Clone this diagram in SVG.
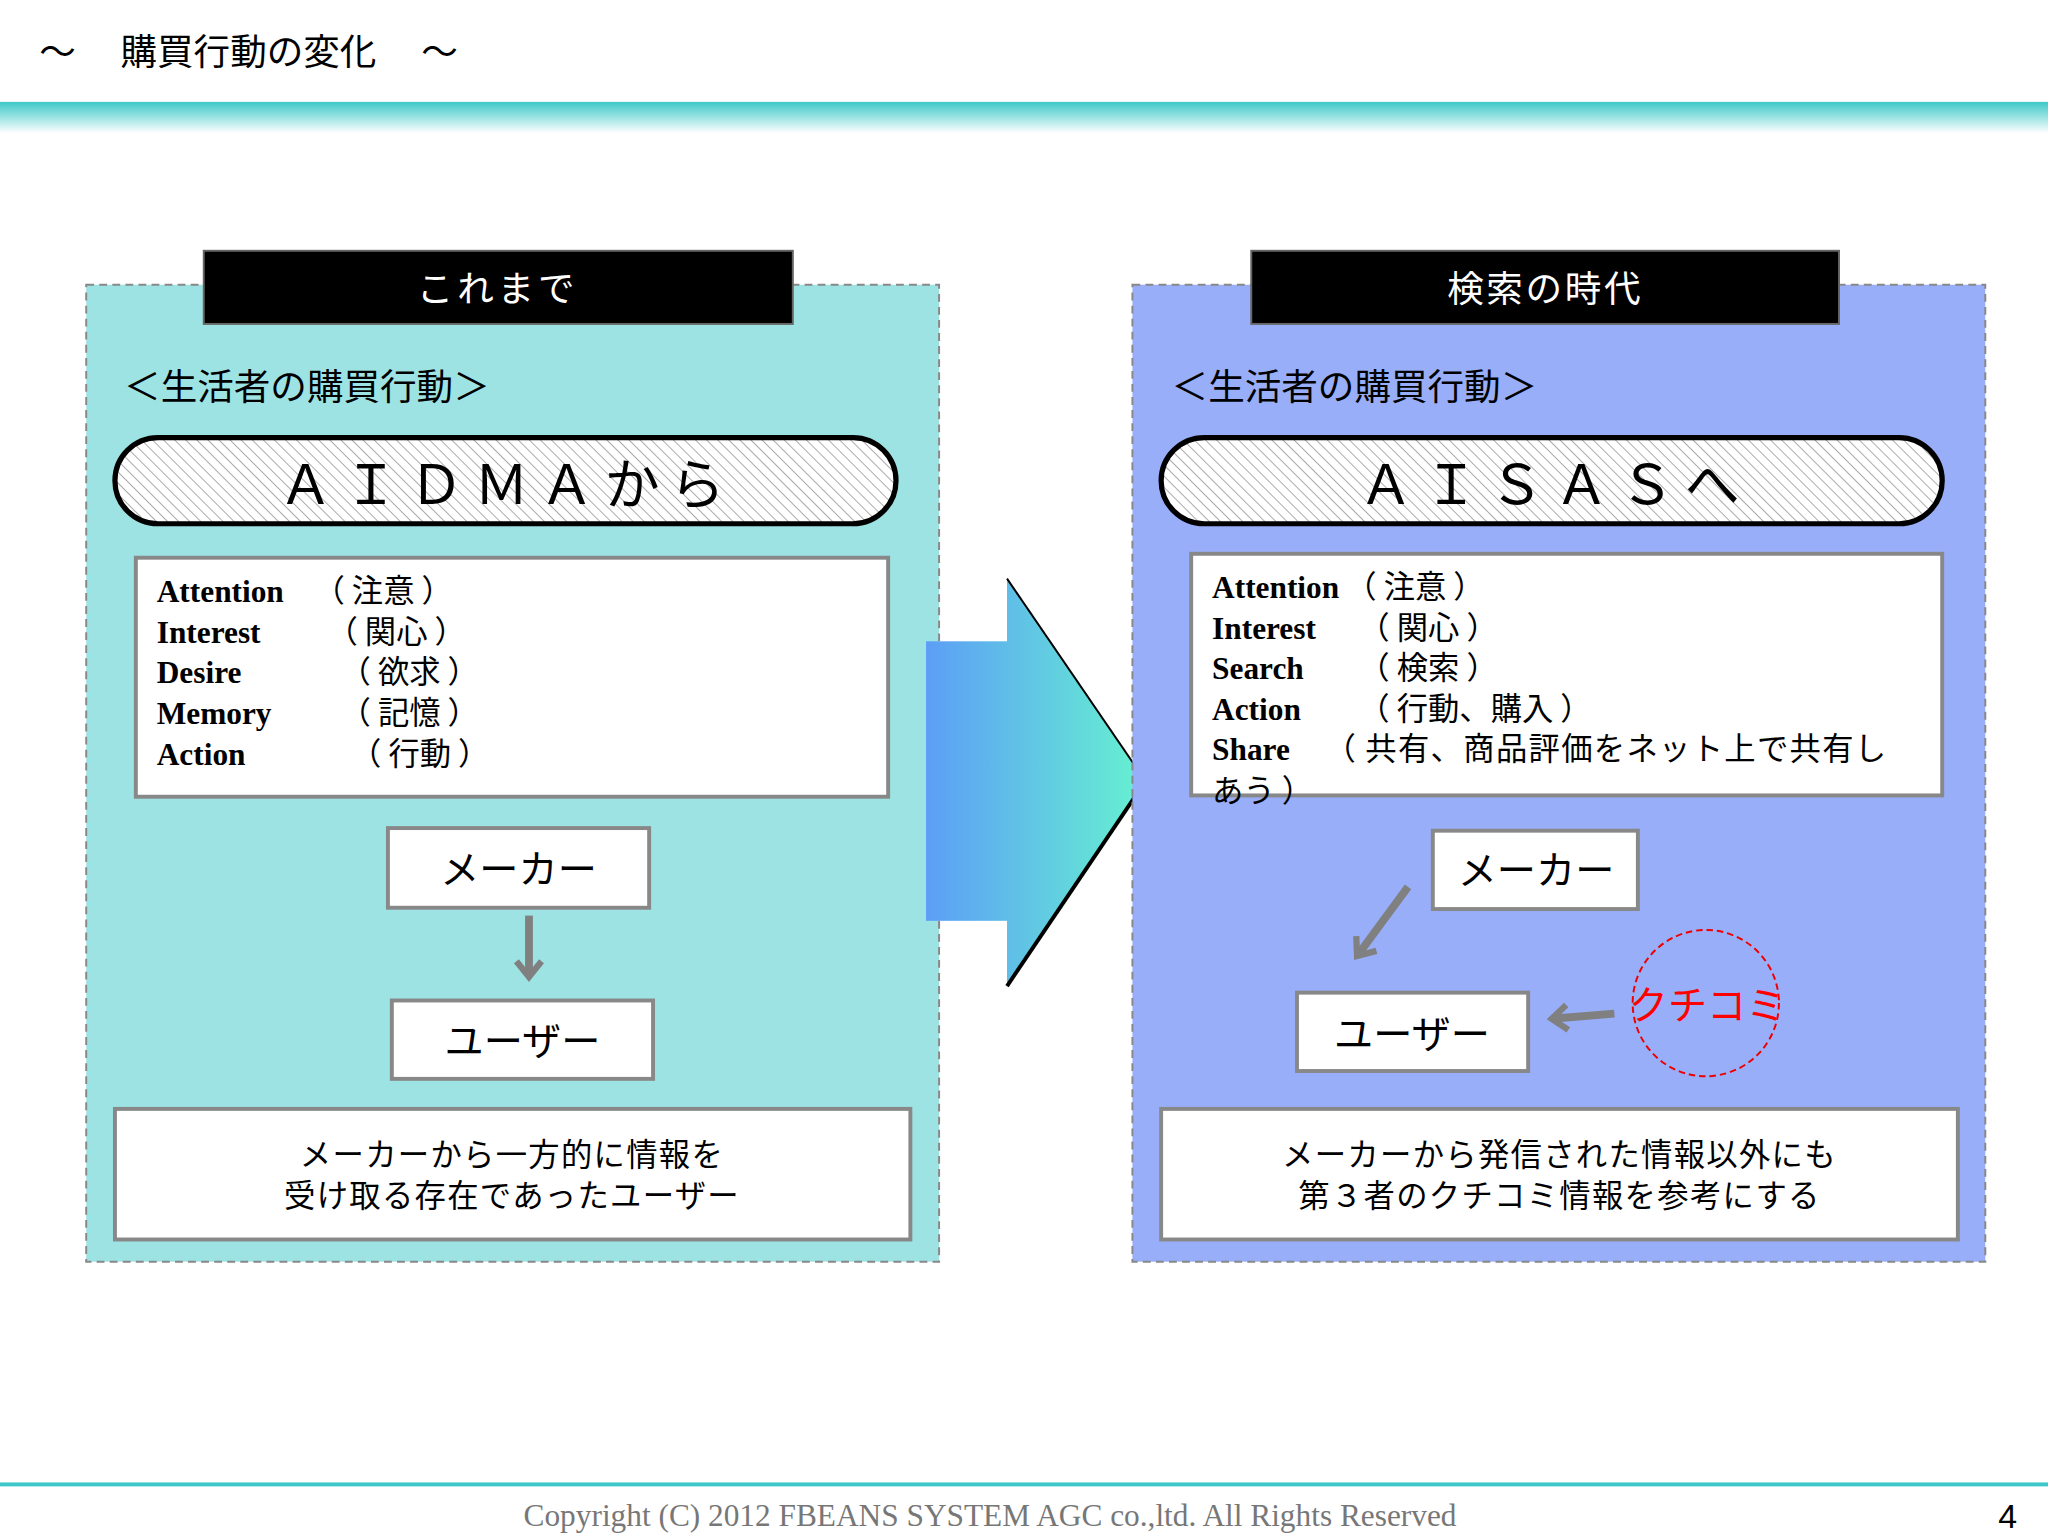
<svg xmlns="http://www.w3.org/2000/svg" width="2048" height="1536" viewBox="0 0 2048 1536">
<defs>
<linearGradient id="hdr" x1="0" y1="0" x2="0" y2="1"><stop offset="0" stop-color="#3cc8c8"/><stop offset="1" stop-color="#ffffff"/></linearGradient>
<linearGradient id="big" gradientUnits="userSpaceOnUse" x1="709" y1="0" x2="877" y2="0"><stop offset="0" stop-color="#5c9ef6"/><stop offset="1" stop-color="#66f2d0"/></linearGradient>
<pattern id="hatch" width="6" height="6" patternUnits="userSpaceOnUse" patternTransform="rotate(-45)"><rect width="6" height="6" fill="#fff"/><line x1="0" y1="0" x2="0" y2="6" stroke="#aaa" stroke-width="1.5"/></pattern>
<marker id="ah" viewBox="0 0 10 10" refX="6" refY="5" markerWidth="4" markerHeight="4" orient="auto"><path d="M1,1 L6,5 L1,9" fill="none" stroke="#808080" stroke-width="2"/></marker>
</defs>
<style>
.jp{font-family:"Noto Sans CJK JP","Noto Sans",sans-serif;fill:#000}
.fr{font-family:"Liberation Serif",serif;font-weight:bold;font-size:24px;fill:#000}
.panel{stroke:#888;stroke-width:1.5;stroke-dasharray:6 4}
.lbl{fill:#000;stroke:#666;stroke-width:1.5}
.pill{fill:url(#hatch);stroke:#000;stroke-width:4}
.wbox{fill:#fff;stroke:#888;stroke-width:3}
.arr{stroke:#808080;stroke-width:6;fill:none}
</style>
<rect width="2048" height="1536" fill="#fff"/>
<g transform="scale(1.30612)">
<g id="header">
<text class="jp" x="30" y="50" font-size="28">～　 購買行動の変化　 ～</text>
<rect x="0" y="78" width="1568" height="24" fill="url(#hdr)"/>
</g>
<g id="left-panel">
<rect class="panel" x="66" y="218" width="653" height="748" fill="#9ee3e3"/>
<rect class="lbl" x="156" y="192" width="451" height="56"/>
<text class="jp" x="381" y="231" font-size="28" text-anchor="middle" style="fill:#fff" letter-spacing="3">これまで</text>
<text class="jp" x="95" y="306" font-size="28">＜生活者の購買行動＞</text>
<rect class="pill" x="88" y="335" width="598" height="66" rx="33"/>
<text class="jp" x="388" y="386" font-size="42" text-anchor="middle" letter-spacing="8">ＡＩＤＭＡから</text>
</g>
<g id="left-list">
<rect class="wbox" x="104" y="427" width="576" height="183"/>
<text class="fr" x="120" y="461">Attention</text><text class="jp" x="240" y="461" font-size="24">（ 注意 ）</text>
<text class="fr" x="120" y="492">Interest</text><text class="jp" x="250" y="492" font-size="24">（ 関心 ）</text>
<text class="fr" x="120" y="523">Desire</text><text class="jp" x="260" y="523" font-size="24">（ 欲求 ）</text>
<text class="fr" x="120" y="554">Memory</text><text class="jp" x="260" y="554" font-size="24">（ 記憶 ）</text>
<text class="fr" x="120" y="586">Action</text><text class="jp" x="268" y="586" font-size="24">（ 行動 ）</text>
</g>
<g id="left-maker"><rect class="wbox" x="297" y="634" width="200" height="61"/><text class="jp" x="397" y="676" font-size="30" text-anchor="middle">メーカー</text></g>
<g id="left-user"><rect class="wbox" x="300" y="766" width="200" height="60"/><text class="jp" x="400" y="808" font-size="30" text-anchor="middle">ユーザー</text></g>
<g id="left-note"><rect class="wbox" x="88" y="849" width="609" height="100" stroke-width="2"/>
<text class="jp" x="392" y="893" font-size="24" text-anchor="middle" letter-spacing="1">メーカーから一方的に情報を</text>
<text class="jp" x="392" y="924" font-size="24" text-anchor="middle" letter-spacing="1">受け取る存在であったユーザー</text></g>
<g id="big-arrow">
<rect x="709" y="491" width="63" height="214" fill="url(#big)"/>
<path d="M771,443 L877,598 L771,755 Z" fill="url(#big)"/>
<path d="M771,443 L877,598" stroke="#000" stroke-width="1.5" fill="none"/>
<path d="M877,598 L771,755" stroke="#000" stroke-width="3" fill="none"/>
</g>
<g id="right-panel">
<rect class="panel" x="867" y="218" width="653" height="748" fill="#99aef8"/>
<rect class="lbl" x="958" y="192" width="450" height="56"/>
<text class="jp" x="1183" y="231" font-size="28" text-anchor="middle" style="fill:#fff" letter-spacing="2">検索の時代</text>
<text class="jp" x="897" y="306" font-size="28">＜生活者の購買行動＞</text>
<rect class="pill" x="889" y="335" width="598" height="66" rx="33"/>
<text class="jp" x="1190" y="386" font-size="42" text-anchor="middle" letter-spacing="8">ＡＩＳＡＳへ</text>
</g>
<g id="right-list">
<rect class="wbox" x="912" y="424" width="575" height="185"/>
<text class="fr" x="928" y="458">Attention</text><text class="jp" x="1030" y="458" font-size="24">（ 注意 ）</text>
<text class="fr" x="928" y="489">Interest</text><text class="jp" x="1040" y="489" font-size="24">（ 関心 ）</text>
<text class="fr" x="928" y="520">Search</text><text class="jp" x="1040" y="520" font-size="24">（ 検索 ）</text>
<text class="fr" x="928" y="551">Action</text><text class="jp" x="1040" y="551" font-size="24">（ 行動、購入 ）</text>
<text class="fr" x="928" y="582">Share</text><text class="jp" x="1014" y="582" font-size="24" letter-spacing="1">（ 共有、商品評価をネット上で共有し</text>
<text class="jp" x="928" y="614" font-size="24">あう ）</text>
</g>
<g id="right-maker"><rect class="wbox" x="1097" y="636" width="157" height="60"/><text class="jp" x="1176" y="677" font-size="30" text-anchor="middle">メーカー</text></g>
<g id="right-user"><rect class="wbox" x="993" y="760" width="177" height="60"/><text class="jp" x="1081" y="802" font-size="30" text-anchor="middle">ユーザー</text></g>
<g id="kuchikomi">
<circle cx="1306" cy="768" r="56" fill="none" stroke="#e00" stroke-width="1.5" stroke-dasharray="5 3"/>
<text class="jp" x="1247" y="780" font-size="30" style="fill:#f00">クチコミ</text>
</g>
<g id="right-note"><rect class="wbox" x="889" y="849" width="610" height="100" stroke-width="2"/>
<text class="jp" x="1194" y="893" font-size="24" text-anchor="middle" letter-spacing="1">メーカーから発信された情報以外にも</text>
<text class="jp" x="1194" y="924" font-size="24" text-anchor="middle" letter-spacing="1">第３者のクチコミ情報を参考にする</text></g>
<g id="connectors">
<line class="arr" x1="405" y1="701" x2="405" y2="748" marker-end="url(#ah)"/>
<line class="arr" x1="1078" y1="679" x2="1039" y2="732" marker-end="url(#ah)"/>
<line class="arr" x1="1236" y1="776" x2="1188" y2="780" marker-end="url(#ah)"/>
</g>
<g id="footer">
<rect x="0" y="1135" width="1568" height="3" fill="#3cc8c8"/>
<text x="758" y="1168" font-family="Liberation Serif,serif" font-size="24" fill="#777" text-anchor="middle">Copyright (C) 2012 FBEANS SYSTEM AGC co.,ltd. All Rights Reserved</text>
<text x="1530" y="1170" font-family="Liberation Sans,sans-serif" font-size="26" fill="#000">4</text>
</g>
</g>
</svg>
